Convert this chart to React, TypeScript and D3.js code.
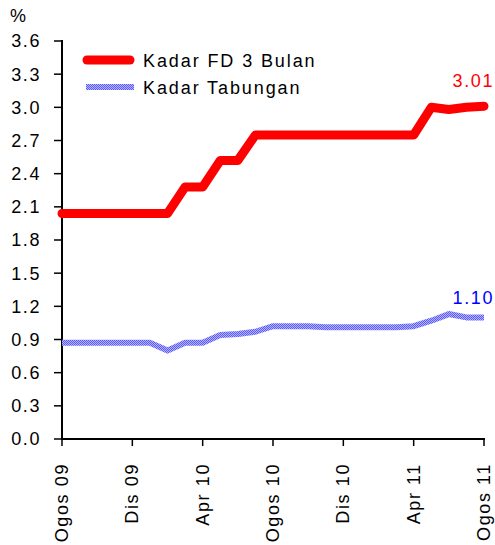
import React from 'react'
import * as d3 from 'd3'

// monthly, Ogos 09 .. Ogos 11
const months = d3.range(25)
const tickMonths = [0, 4, 8, 12, 16, 20, 24]
const tickLabels = ['Ogos 09', 'Dis 09', 'Apr 10', 'Ogos 10', 'Dis 10', 'Apr 11', 'Ogos 11']
const fd3 = [2.04, 2.04, 2.04, 2.04, 2.04, 2.04, 2.04, 2.28, 2.28, 2.52, 2.52, 2.75, 2.75,
  2.75, 2.75, 2.75, 2.75, 2.75, 2.75, 2.75, 2.75, 3.0, 2.98, 3.0, 3.01]
const tabungan = [0.87, 0.87, 0.87, 0.87, 0.87, 0.87, 0.8, 0.87, 0.87, 0.94, 0.95, 0.97, 1.02,
  1.02, 1.02, 1.01, 1.01, 1.01, 1.01, 1.01, 1.02, 1.07, 1.13, 1.1, 1.1]
const yTicks = d3.range(0, 3.61, 0.3)
const seriesNames = ['Kadar FD 3 Bulan', 'Kadar Tabungan']

const font = 'Arial, "Liberation Sans", sans-serif'
const ls = 1.6

export default function App() {
  const w = 495
  const h = 545
  const x = d3.scaleLinear().domain([0, months.length - 1]).range([62, 484])
  const y = d3.scaleLinear().domain([0, 3.6]).range([439, 41])
  const line = d3.line<number>().x((d, i) => x(i)).y(d => y(d))

  return (
    <svg width={w} height={h} style={{ position: 'absolute', left: 0, top: 0, background: '#fff' }}>
      <defs>
        <pattern id="chk" width="2" height="2" patternUnits="userSpaceOnUse">
          <rect width="2" height="2" fill="#b4b4ff" />
          <rect width="1" height="1" fill="#5a5aff" />
          <rect x="1" y="1" width="1" height="1" fill="#5a5aff" />
        </pattern>
      </defs>
      <g fontFamily={font} fontSize={18} fill="#000" letterSpacing={ls}>
        <text x={10} y={22}>%</text>
        {yTicks.map(t => (
          <g key={t}>
            <line x1={54} x2={62} y1={y(t)} y2={y(t)} stroke="#000" strokeWidth={1.5} />
            <text x={41} y={y(t)} dy="0.36em" textAnchor="end">{t.toFixed(1)}</text>
          </g>
        ))}
        {tickMonths.map((m, i) => (
          <g key={m}>
            <line x1={x(m)} x2={x(m)} y1={439} y2={446} stroke="#000" strokeWidth={1.5} />
            <text transform={`translate(${x(m) + 6},${463}) rotate(-90)`} textAnchor="end">{tickLabels[i]}</text>
          </g>
        ))}
        <line x1={62} x2={62} y1={40} y2={440} stroke="#000" strokeWidth={2} />
        <line x1={61} x2={485} y1={439} y2={439} stroke="#000" strokeWidth={2} />
      </g>
      <path d={line(tabungan) ?? ''} fill="none" stroke="url(#chk)" strokeWidth={6} strokeLinejoin="round" />
      <path d={line(fd3) ?? ''} fill="none" stroke="#ff0000" strokeWidth={9} strokeLinejoin="round" strokeLinecap="round" />
      <g fontFamily={font} fontSize={18} letterSpacing={ls} textAnchor="end">
        <text x={x(24) + 10} y={y(fd3[24]) - 19} fill="#ff0000">{fd3[24].toFixed(2)}</text>
        <text x={x(24) + 10} y={y(tabungan[24]) - 13} fill="#0000ff">{tabungan[24].toFixed(2)}</text>
      </g>
      <g fontFamily={font} fontSize={18} letterSpacing={1.9}>
        <line x1={87} x2={130} y1={60} y2={60} stroke="#ff0000" strokeWidth={9} strokeLinecap="round" />
        <text x={143} y={67}>{seriesNames[0]}</text>
        <line x1={86} x2={134} y1={87} y2={87} stroke="url(#chk)" strokeWidth={6} />
        <text x={143} y={94}>{seriesNames[1]}</text>
      </g>
    </svg>
  )
}
